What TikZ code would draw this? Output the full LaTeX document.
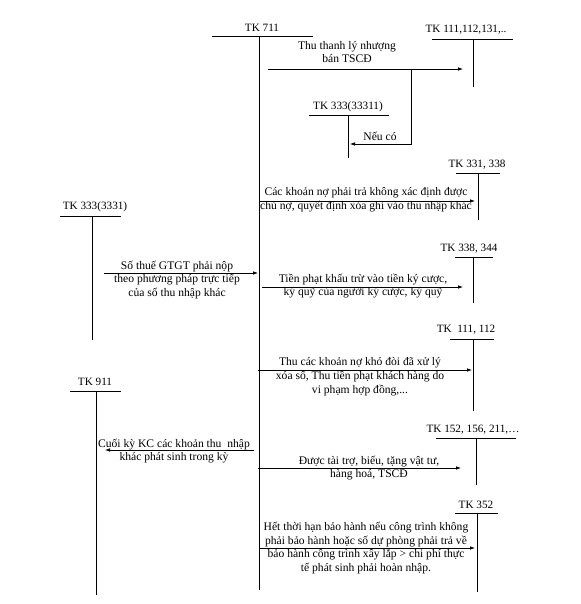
\documentclass[tikz,border=0pt]{standalone}
\usepackage{fontspec}
\setmainfont{Liberation Serif}
\usetikzlibrary{arrows.meta}
\begin{document}
\begin{tikzpicture}[x=1pt,y=-1pt, line width=0.75pt,
  lbl/.style={font=\fontsize{11.2}{13}\selectfont, inner sep=0pt},
  txt/.style={font=\fontsize{11.6}{13.8}\selectfont, align=center, inner sep=0pt},
  arr/.style={-{Latex[length=5pt,width=3.6pt]}}]
\useasboundingbox (0,0) rectangle (580,604);
% ---- T accounts ----
\node[lbl] (t711) at (262,28) {TK 711};
\draw (212,36) -- (313,36);
\coordinate (t711top) at (259,36); \coordinate (t711bot) at (259,590);
\draw (t711top) -- (t711bot);

\node[lbl] (t111) at (466,30) {TK 111,112,131,..};
\draw (432,39) -- (513,39);
\coordinate (t111top) at (473,39); \coordinate (t111bot) at (473,87);
\draw (t111top) -- (t111bot);

\node[lbl] (t33311) at (348,107) {TK 333(33311)};
\draw (309,115) -- (389,115);
\coordinate (t33311top) at (348,115); \coordinate (t33311bot) at (348,158);
\draw (t33311top) -- (t33311bot);

\node[lbl] (t331) at (477,165) {TK 331, 338};
\draw (456,173) -- (500,173);
\coordinate (t331top) at (478,173); \coordinate (t331bot) at (478,220);
\draw (t331top) -- (t331bot);

\node[lbl] (t338) at (469,249) {TK 338, 344};
\draw (455,257) -- (493,257);
\coordinate (t338top) at (473,257); \coordinate (t338bot) at (473,303);
\draw (t338top) -- (t338bot);

\node[lbl] (t3331) at (95,207) {TK 333(3331)};
\draw (60,216) -- (121,216);
\coordinate (t3331top) at (92,216); \coordinate (t3331bot) at (92,340);
\draw (t3331top) -- (t3331bot);

\node[lbl] (t111b) at (466,330) {TK\ \ 111, 112};
\draw (450,339) -- (494,339);
\coordinate (t111btop) at (473,339); \coordinate (t111bbot) at (473,411);
\draw (t111btop) -- (t111bbot);

\node[lbl] (t911) at (95,382) {TK 911};
\draw (70,391) -- (121,391);
\coordinate (t911top) at (96,391); \coordinate (t911bot) at (96,595);
\draw (t911top) -- (t911bot);

\node[lbl] (t152) at (473,430) {TK 152, 156, 211,\dots};
\draw (436,438) -- (516,438);
\coordinate (t152top) at (476,438); \coordinate (t152bot) at (476,485);
\draw (t152top) -- (t152bot);

\node[lbl] (t352) at (476,505) {TK 352};
\draw (455,513) -- (498,513);
\coordinate (t352top) at (477,513); \coordinate (t352bot) at (477,592);
\draw (t352top) -- (t352bot);

% ---- entries ----
\coordinate (a1s) at (268,69); \coordinate (a1e) at (463,69);
\draw[arr] (a1s) -- (a1e);
\node[txt] (x1) at (347,52) {Thu thanh lý nhượng\\bán TSCĐ};
\coordinate (b1s) at (411,69); \coordinate (b1e) at (350,144);
\draw[arr] (b1s) |- (b1e);
\node[txt] (x1b) at (380,136) {Nếu có};

\coordinate (a2s) at (259,201); \coordinate (a2e) at (475,201);
\draw[arr] (a2s) -- (a2e);
\node[txt] (x2) at (366,200) {Các khoản nợ phải trả không xác định được\\chủ nợ, quyết định xóa ghi vào thu nhập khác};

\coordinate (a3s) at (262,287); \coordinate (a3e) at (463,287);
\draw[arr] (a3s) -- (a3e);
\node[txt] (x3) at (363,286) {Tiền phạt khấu trừ vào tiền ký cược,\\ký quỹ của người ký cược, ký quỹ};

\coordinate (a4s) at (104,273); \coordinate (a4e) at (258,273);
\draw[arr] (a4s) -- (a4e);
\node[txt] (x4) at (177,280) {Số thuế GTGT phải nộp\\theo phương pháp trực tiếp\\của số thu nhập khác};

\coordinate (a5s) at (258,370); \coordinate (a5e) at (472,370);
\draw[arr] (a5s) -- (a5e);
\node[txt] (x5) at (360,377) {Thu các khoản nợ khó đòi đã xử lý\\xóa sổ, Thu tiền phạt khách hàng do\\vi phạm hợp đồng,...};

\coordinate (a6s) at (254,450); \coordinate (a6e) at (105,450);
\draw[arr] (a6s) -- (a6e);
\node[txt] (x6) at (174,451) {Cuối kỳ KC các khoản thu\ \ nhập\\khác phát sinh trong kỳ};

\coordinate (a7s) at (258,468); \coordinate (a7e) at (461,468);
\draw[arr] (a7s) -- (a7e);
\node[txt] (x7) at (369,468) {Được tài trợ, biếu, tặng vật tư,\\hàng hoá, TSCĐ};

\coordinate (a8s) at (260,548); \coordinate (a8e) at (475,548);
\draw[arr] (a8s) -- (a8e);
\node[txt] (x8) at (366,548) {Hết thời hạn bảo hành nếu công trình không\\phải bảo hành hoặc số dự phòng phải trả về\\bảo hành công trình xây lắp > chi phí thực\\tế phát sinh phải hoàn nhập.};
\end{tikzpicture}
\end{document}
